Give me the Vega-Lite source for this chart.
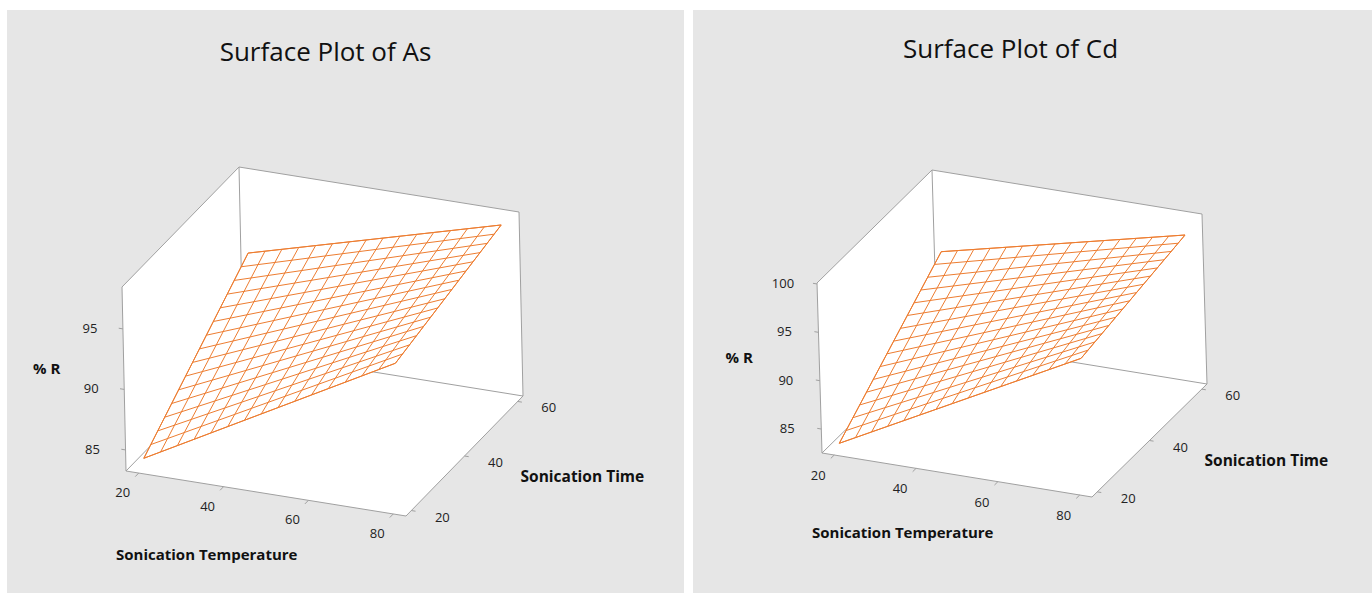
{
"$schema": "https://vega.github.io/schema/vega-lite/v6.json",
"background": "white",
"padding": {"left": 7, "top": 10, "right": 0, "bottom": 0},
"spacing": 9,
"config": {"view": {"stroke": null}, "font": "Open Sans"},
"datasets": {
"hex": [{"o":0,"a":0,"b":0,"c":0},{"o":1,"a":1,"b":0,"c":0},{"o":2,"a":1,"b":1,"c":0},{"o":3,"a":1,"b":1,"c":1},{"o":4,"a":0,"b":1,"c":1},{"o":5,"a":0,"b":0,"c":1}],
"inner": [{"e":1,"o":0,"a":0,"b":0,"c":0},{"e":1,"o":1,"a":0,"b":1,"c":0},{"e":2,"o":0,"a":0,"b":1,"c":0},{"e":2,"o":1,"a":0,"b":1,"c":1},{"e":3,"o":0,"a":0,"b":1,"c":0},{"e":3,"o":1,"a":1,"b":1,"c":0}],
"tkAs": [{"ax":"T","v":20},{"ax":"T","v":40},{"ax":"T","v":60},{"ax":"T","v":80},{"ax":"t","v":20},{"ax":"t","v":40},{"ax":"t","v":60},{"ax":"R","v":85},{"ax":"R","v":90},{"ax":"R","v":95}],
"tkCd": [{"ax":"T","v":20},{"ax":"T","v":40},{"ax":"T","v":60},{"ax":"T","v":80},{"ax":"t","v":20},{"ax":"t","v":40},{"ax":"t","v":60},{"ax":"R","v":85},{"ax":"R","v":90},{"ax":"R","v":95},{"ax":"R","v":100}],
"asP": [
{"T":20,"t":20,"R":84.03},{"T":20,"t":22.67,"R":84.56},{"T":20,"t":25.33,"R":85.09},{"T":20,"t":28,"R":85.62},{"T":20,"t":30.67,"R":86.15},{"T":20,"t":33.33,"R":86.68},{"T":20,"t":36,"R":87.21},{"T":20,"t":38.67,"R":87.74},{"T":20,"t":41.33,"R":88.26},{"T":20,"t":44,"R":88.79},{"T":20,"t":46.67,"R":89.32},{"T":20,"t":49.33,"R":89.85},{"T":20,"t":52,"R":90.38},{"T":20,"t":54.67,"R":90.91},{"T":20,"t":57.33,"R":91.44},{"T":20,"t":60,"R":91.97},
{"T":80,"t":20,"R":95.26},{"T":80,"t":22.67,"R":95.42},{"T":80,"t":25.33,"R":95.58},{"T":80,"t":28,"R":95.74},{"T":80,"t":30.67,"R":95.90},{"T":80,"t":33.33,"R":96.06},{"T":80,"t":36,"R":96.22},{"T":80,"t":38.67,"R":96.38},{"T":80,"t":41.33,"R":96.55},{"T":80,"t":44,"R":96.71},{"T":80,"t":46.67,"R":96.87},{"T":80,"t":49.33,"R":97.03},{"T":80,"t":52,"R":97.19},{"T":80,"t":54.67,"R":97.35},{"T":80,"t":57.33,"R":97.51},{"T":80,"t":60,"R":97.67},
{"T":24,"t":20,"R":84.78},{"T":28,"t":20,"R":85.53},{"T":32,"t":20,"R":86.28},{"T":36,"t":20,"R":87.02},{"T":40,"t":20,"R":87.77},{"T":44,"t":20,"R":88.52},{"T":48,"t":20,"R":89.27},{"T":52,"t":20,"R":90.02},{"T":56,"t":20,"R":90.77},{"T":60,"t":20,"R":91.52},{"T":64,"t":20,"R":92.27},{"T":68,"t":20,"R":93.01},{"T":72,"t":20,"R":93.76},{"T":76,"t":20,"R":94.51},
{"T":24,"t":60,"R":92.35},{"T":28,"t":60,"R":92.73},{"T":32,"t":60,"R":93.11},{"T":36,"t":60,"R":93.49},{"T":40,"t":60,"R":93.87},{"T":44,"t":60,"R":94.25},{"T":48,"t":60,"R":94.63},{"T":52,"t":60,"R":95.01},{"T":56,"t":60,"R":95.39},{"T":60,"t":60,"R":95.77},{"T":64,"t":60,"R":96.15},{"T":68,"t":60,"R":96.53},{"T":72,"t":60,"R":96.91},{"T":76,"t":60,"R":97.29}
],
"cdP": [
{"T":20,"t":20,"R":83.20},{"T":20,"t":22.67,"R":83.81},{"T":20,"t":25.33,"R":84.43},{"T":20,"t":28,"R":85.04},{"T":20,"t":30.67,"R":85.65},{"T":20,"t":33.33,"R":86.26},{"T":20,"t":36,"R":86.88},{"T":20,"t":38.67,"R":87.49},{"T":20,"t":41.33,"R":88.10},{"T":20,"t":44,"R":88.71},{"T":20,"t":46.67,"R":89.33},{"T":20,"t":49.33,"R":89.94},{"T":20,"t":52,"R":90.55},{"T":20,"t":54.67,"R":91.16},{"T":20,"t":57.33,"R":91.78},{"T":20,"t":60,"R":92.39},
{"T":80,"t":20,"R":96.12},{"T":80,"t":22.67,"R":96.26},{"T":80,"t":25.33,"R":96.40},{"T":80,"t":28,"R":96.55},{"T":80,"t":30.67,"R":96.69},{"T":80,"t":33.33,"R":96.83},{"T":80,"t":36,"R":96.97},{"T":80,"t":38.67,"R":97.11},{"T":80,"t":41.33,"R":97.26},{"T":80,"t":44,"R":97.40},{"T":80,"t":46.67,"R":97.54},{"T":80,"t":49.33,"R":97.68},{"T":80,"t":52,"R":97.82},{"T":80,"t":54.67,"R":97.97},{"T":80,"t":57.33,"R":98.11},{"T":80,"t":60,"R":98.25},
{"T":24,"t":20,"R":84.06},{"T":28,"t":20,"R":84.92},{"T":32,"t":20,"R":85.78},{"T":36,"t":20,"R":86.65},{"T":40,"t":20,"R":87.51},{"T":44,"t":20,"R":88.37},{"T":48,"t":20,"R":89.23},{"T":52,"t":20,"R":90.09},{"T":56,"t":20,"R":90.95},{"T":60,"t":20,"R":91.81},{"T":64,"t":20,"R":92.67},{"T":68,"t":20,"R":93.54},{"T":72,"t":20,"R":94.40},{"T":76,"t":20,"R":95.26},
{"T":24,"t":60,"R":92.78},{"T":28,"t":60,"R":93.17},{"T":32,"t":60,"R":93.56},{"T":36,"t":60,"R":93.95},{"T":40,"t":60,"R":94.34},{"T":44,"t":60,"R":94.73},{"T":48,"t":60,"R":95.12},{"T":52,"t":60,"R":95.51},{"T":56,"t":60,"R":95.90},{"T":60,"t":60,"R":96.30},{"T":64,"t":60,"R":96.69},{"T":68,"t":60,"R":97.08},{"T":72,"t":60,"R":97.47},{"T":76,"t":60,"R":97.86}
]
},
"hconcat": [
{
"width": 677, "height": 583,
"view": {"fill": "#e6e6e6", "stroke": null},
"title": {"text": "Surface Plot of As", "anchor": "middle", "frame": "group", "offset": -77, "baseline": "alphabetic", "dx": -20, "font": "Open Sans", "fontSize": 26, "fontWeight": "normal", "color": "#111111"},
"encoding": {
"x": {"field": "px", "type": "quantitative", "scale": {"domain": [0, 677], "nice": false, "zero": false}, "axis": null},
"y": {"field": "py", "type": "quantitative", "scale": {"domain": [0, 583], "nice": false, "zero": false, "reverse": true}, "axis": null}
},
"layer": [
{"data": {"name": "hex"},
"transform": [{"calculate": "119+datum.a*280+datum.b*117-datum.c*4", "as": "px"}, {"calculate": "461+datum.a*45-datum.b*120-datum.c*184", "as": "py"}],
"mark": {"type": "line", "interpolate": "linear-closed", "fill": "white", "stroke": "#a0a0a0", "strokeWidth": 1},
"encoding": {"order": {"field": "o", "type": "quantitative"}}},
{"data": {"name": "inner"},
"transform": [{"calculate": "119+datum.a*280+datum.b*117-datum.c*4", "as": "px"}, {"calculate": "461+datum.a*45-datum.b*120-datum.c*184", "as": "py"}],
"mark": {"type": "line", "stroke": "#a0a0a0", "strokeWidth": 1},
"encoding": {"detail": {"field": "e", "type": "nominal"}, "order": {"field": "o", "type": "quantitative"}}},
{"data": {"name": "asP"},
"transform": [{"filter": "(datum.T==20||datum.T==80)&&(datum.t==20||datum.t==60)"}, {"calculate": "datum.T==20?(datum.t==20?0:3):(datum.t==20?1:2)", "as": "o"},
{"calculate": "119+(datum.T-17)/66*280+(datum.t-18)/44*117-(datum.R-83.26)/15.2*4", "as": "px"}, {"calculate": "461+(datum.T-17)/66*45-(datum.t-18)/44*120-(datum.R-83.26)/15.2*184", "as": "py"}],
"mark": {"type": "line", "interpolate": "linear-closed", "fill": "white", "stroke": "#ED7D31", "strokeWidth": 1},
"encoding": {"order": {"field": "o", "type": "quantitative"}}},
{"data": {"name": "asP"},
"transform": [{"filter": "datum.T==20||datum.T==80"},
{"calculate": "119+(datum.T-17)/66*280+(datum.t-18)/44*117-(datum.R-83.26)/15.2*4", "as": "px"}, {"calculate": "461+(datum.T-17)/66*45-(datum.t-18)/44*120-(datum.R-83.26)/15.2*184", "as": "py"}],
"mark": {"type": "line", "stroke": "#ED7D31", "strokeWidth": 1},
"encoding": {"detail": {"field": "t", "type": "nominal"}, "order": {"field": "T", "type": "quantitative"}}},
{"data": {"name": "asP"},
"transform": [{"filter": "datum.t==20||datum.t==60"},
{"calculate": "119+(datum.T-17)/66*280+(datum.t-18)/44*117-(datum.R-83.26)/15.2*4", "as": "px"}, {"calculate": "461+(datum.T-17)/66*45-(datum.t-18)/44*120-(datum.R-83.26)/15.2*184", "as": "py"}],
"mark": {"type": "line", "stroke": "#ED7D31", "strokeWidth": 1},
"encoding": {"detail": {"field": "T", "type": "nominal"}, "order": {"field": "t", "type": "quantitative"}}},
{"data": {"name": "tkAs"},
"transform": [
{"calculate": "datum.ax=='T'?(datum.v-17)/66:(datum.ax=='t'?1:0)", "as": "a"},
{"calculate": "datum.ax=='t'?(datum.v-18)/44:0", "as": "b"},
{"calculate": "datum.ax=='R'?(datum.v-83.26)/15.2:0", "as": "c"},
{"calculate": "datum.ax=='t'?1.015:(datum.ax=='R'?-0.015:datum.a)", "as": "a2"},
{"calculate": "datum.ax=='T'?-0.03:datum.b", "as": "b2"},
{"calculate": "119+datum.a*280+datum.b*117-datum.c*4", "as": "px"}, {"calculate": "461+datum.a*45-datum.b*120-datum.c*184", "as": "py"},
{"calculate": "119+datum.a2*280+datum.b2*117-datum.c*4", "as": "px2"}, {"calculate": "461+datum.a2*45-datum.b2*120-datum.c*184", "as": "py2"}],
"mark": {"type": "rule", "color": "#a0a0a0", "strokeWidth": 1},
"encoding": {"x2": {"field": "px2"}, "y2": {"field": "py2"}}},
{"data": {"name": "tkAs"},
"transform": [{"filter": "datum.ax=='T'"}, {"calculate": "119+(datum.v-17)/66*280", "as": "px"}, {"calculate": "461+(datum.v-17)/66*45", "as": "py"}],
"mark": {"type": "text", "dx": -16, "dy": 20, "fontSize": 13, "color": "#222222", "align": "center", "baseline": "middle"},
"encoding": {"text": {"field": "v", "type": "quantitative"}}},
{"data": {"name": "tkAs"},
"transform": [{"filter": "datum.ax=='t'"}, {"calculate": "399+(datum.v-18)/44*117", "as": "px"}, {"calculate": "506-(datum.v-18)/44*120", "as": "py"}],
"mark": {"type": "text", "dx": 31, "dy": 7, "fontSize": 13, "color": "#222222", "align": "center", "baseline": "middle"},
"encoding": {"text": {"field": "v", "type": "quantitative"}}},
{"data": {"name": "tkAs"},
"transform": [{"filter": "datum.ax=='R'"}, {"calculate": "119-(datum.v-83.26)/15.2*4", "as": "px"}, {"calculate": "461-(datum.v-83.26)/15.2*184", "as": "py"}],
"mark": {"type": "text", "dx": -33, "dy": 0, "fontSize": 13, "color": "#222222", "align": "center", "baseline": "middle"},
"encoding": {"text": {"field": "v", "type": "quantitative"}}},
{"data": {"values": [{"a": 0, "b": 0, "c": 0}]},
"transform": [{"calculate": "119+datum.a*280+datum.b*117-datum.c*4", "as": "px"}, {"calculate": "461+datum.a*45-datum.b*120-datum.c*184", "as": "py"}],
"mark": {"type": "text", "text": "Sonication Temperature", "dx": -10, "dy": 84, "fontSize": 15, "fontWeight": "bold", "color": "#111111", "align": "left", "baseline": "middle"}},
{"data": {"values": [{"a": 1, "b": 0.5, "c": 0}]},
"transform": [{"calculate": "119+datum.a*280+datum.b*117-datum.c*4", "as": "px"}, {"calculate": "461+datum.a*45-datum.b*120-datum.c*184", "as": "py"}],
"mark": {"type": "text", "text": "Sonication Time", "dx": 56, "dy": 21, "fontSize": 15.5, "fontWeight": "bold", "color": "#111111", "align": "left", "baseline": "middle"}},
{"data": {"values": [{"a": 0, "b": 0, "c": 0.5}]},
"transform": [{"calculate": "119+datum.a*280+datum.b*117-datum.c*4", "as": "px"}, {"calculate": "461+datum.a*45-datum.b*120-datum.c*184", "as": "py"}],
"mark": {"type": "text", "text": "% R", "dx": -91, "dy": -10, "fontSize": 15, "fontWeight": "bold", "color": "#111111", "align": "left", "baseline": "middle"}}
]
},
{
"width": 679, "height": 583,
"view": {"fill": "#e6e6e6", "stroke": null},
"title": {"text": "Surface Plot of Cd", "anchor": "middle", "frame": "group", "offset": -74, "baseline": "alphabetic", "dx": -22, "font": "Open Sans", "fontSize": 26, "fontWeight": "normal", "color": "#111111"},
"encoding": {
"x": {"field": "px", "type": "quantitative", "scale": {"domain": [0, 679], "nice": false, "zero": false}, "axis": null},
"y": {"field": "py", "type": "quantitative", "scale": {"domain": [0, 583], "nice": false, "zero": false, "reverse": true}, "axis": null}
},
"layer": [
{"data": {"name": "hex"},
"transform": [{"calculate": "129+datum.a*270+datum.b*115-datum.c*5", "as": "px"}, {"calculate": "443+datum.a*44-datum.b*113-datum.c*170", "as": "py"}],
"mark": {"type": "line", "interpolate": "linear-closed", "fill": "white", "stroke": "#a0a0a0", "strokeWidth": 1},
"encoding": {"order": {"field": "o", "type": "quantitative"}}},
{"data": {"name": "inner"},
"transform": [{"calculate": "129+datum.a*270+datum.b*115-datum.c*5", "as": "px"}, {"calculate": "443+datum.a*44-datum.b*113-datum.c*170", "as": "py"}],
"mark": {"type": "line", "stroke": "#a0a0a0", "strokeWidth": 1},
"encoding": {"detail": {"field": "e", "type": "nominal"}, "order": {"field": "o", "type": "quantitative"}}},
{"data": {"name": "cdP"},
"transform": [{"filter": "(datum.T==20||datum.T==80)&&(datum.t==20||datum.t==60)"}, {"calculate": "datum.T==20?(datum.t==20?0:3):(datum.t==20?1:2)", "as": "o"},
{"calculate": "129+(datum.T-17)/66*270+(datum.t-18)/44*115-(datum.R-82.52)/17.58*5", "as": "px"}, {"calculate": "443+(datum.T-17)/66*44-(datum.t-18)/44*113-(datum.R-82.52)/17.58*170", "as": "py"}],
"mark": {"type": "line", "interpolate": "linear-closed", "fill": "white", "stroke": "#ED7D31", "strokeWidth": 1},
"encoding": {"order": {"field": "o", "type": "quantitative"}}},
{"data": {"name": "cdP"},
"transform": [{"filter": "datum.T==20||datum.T==80"},
{"calculate": "129+(datum.T-17)/66*270+(datum.t-18)/44*115-(datum.R-82.52)/17.58*5", "as": "px"}, {"calculate": "443+(datum.T-17)/66*44-(datum.t-18)/44*113-(datum.R-82.52)/17.58*170", "as": "py"}],
"mark": {"type": "line", "stroke": "#ED7D31", "strokeWidth": 1},
"encoding": {"detail": {"field": "t", "type": "nominal"}, "order": {"field": "T", "type": "quantitative"}}},
{"data": {"name": "cdP"},
"transform": [{"filter": "datum.t==20||datum.t==60"},
{"calculate": "129+(datum.T-17)/66*270+(datum.t-18)/44*115-(datum.R-82.52)/17.58*5", "as": "px"}, {"calculate": "443+(datum.T-17)/66*44-(datum.t-18)/44*113-(datum.R-82.52)/17.58*170", "as": "py"}],
"mark": {"type": "line", "stroke": "#ED7D31", "strokeWidth": 1},
"encoding": {"detail": {"field": "T", "type": "nominal"}, "order": {"field": "t", "type": "quantitative"}}},
{"data": {"name": "tkCd"},
"transform": [
{"calculate": "datum.ax=='T'?(datum.v-17)/66:(datum.ax=='t'?1:0)", "as": "a"},
{"calculate": "datum.ax=='t'?(datum.v-18)/44:0", "as": "b"},
{"calculate": "datum.ax=='R'?(datum.v-82.52)/17.58:0", "as": "c"},
{"calculate": "datum.ax=='t'?1.015:(datum.ax=='R'?-0.015:datum.a)", "as": "a2"},
{"calculate": "datum.ax=='T'?-0.03:datum.b", "as": "b2"},
{"calculate": "129+datum.a*270+datum.b*115-datum.c*5", "as": "px"}, {"calculate": "443+datum.a*44-datum.b*113-datum.c*170", "as": "py"},
{"calculate": "129+datum.a2*270+datum.b2*115-datum.c*5", "as": "px2"}, {"calculate": "443+datum.a2*44-datum.b2*113-datum.c*170", "as": "py2"}],
"mark": {"type": "rule", "color": "#a0a0a0", "strokeWidth": 1},
"encoding": {"x2": {"field": "px2"}, "y2": {"field": "py2"}}},
{"data": {"name": "tkCd"},
"transform": [{"filter": "datum.ax=='T'"}, {"calculate": "129+(datum.v-17)/66*270", "as": "px"}, {"calculate": "443+(datum.v-17)/66*44", "as": "py"}],
"mark": {"type": "text", "dx": -16, "dy": 21, "fontSize": 13, "color": "#222222", "align": "center", "baseline": "middle"},
"encoding": {"text": {"field": "v", "type": "quantitative"}}},
{"data": {"name": "tkCd"},
"transform": [{"filter": "datum.ax=='t'"}, {"calculate": "399+(datum.v-18)/44*115", "as": "px"}, {"calculate": "487-(datum.v-18)/44*113", "as": "py"}],
"mark": {"type": "text", "dx": 31, "dy": 7, "fontSize": 13, "color": "#222222", "align": "center", "baseline": "middle"},
"encoding": {"text": {"field": "v", "type": "quantitative"}}},
{"data": {"name": "tkCd"},
"transform": [{"filter": "datum.ax=='R'"}, {"calculate": "129-(datum.v-82.52)/17.58*5", "as": "px"}, {"calculate": "443-(datum.v-82.52)/17.58*170", "as": "py"}],
"mark": {"type": "text", "dx": -34, "dy": 0, "fontSize": 13, "color": "#222222", "align": "center", "baseline": "middle"},
"encoding": {"text": {"field": "v", "type": "quantitative"}}},
{"data": {"values": [{"a": 0, "b": 0, "c": 0}]},
"transform": [{"calculate": "129+datum.a*270+datum.b*115-datum.c*5", "as": "px"}, {"calculate": "443+datum.a*44-datum.b*113-datum.c*170", "as": "py"}],
"mark": {"type": "text", "text": "Sonication Temperature", "dx": -10, "dy": 80, "fontSize": 15, "fontWeight": "bold", "color": "#111111", "align": "left", "baseline": "middle"}},
{"data": {"values": [{"a": 1, "b": 0.5, "c": 0}]},
"transform": [{"calculate": "129+datum.a*270+datum.b*115-datum.c*5", "as": "px"}, {"calculate": "443+datum.a*44-datum.b*113-datum.c*170", "as": "py"}],
"mark": {"type": "text", "text": "Sonication Time", "dx": 55, "dy": 20, "fontSize": 15.5, "fontWeight": "bold", "color": "#111111", "align": "left", "baseline": "middle"}},
{"data": {"values": [{"a": 0, "b": 0, "c": 0.5}]},
"transform": [{"calculate": "129+datum.a*270+datum.b*115-datum.c*5", "as": "px"}, {"calculate": "443+datum.a*44-datum.b*113-datum.c*170", "as": "py"}],
"mark": {"type": "text", "text": "% R", "dx": -94, "dy": -10, "fontSize": 15, "fontWeight": "bold", "color": "#111111", "align": "left", "baseline": "middle"}}
]
}
]
}
